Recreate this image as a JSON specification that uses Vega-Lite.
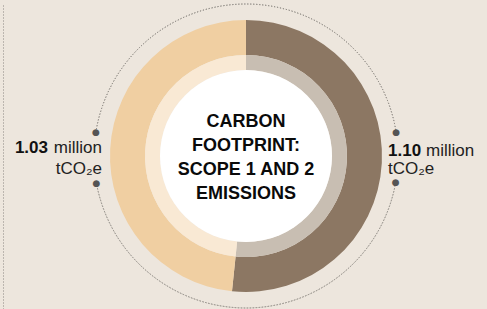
{
  "$schema": "https://vega.github.io/schema/vega-lite/v6.json",
  "autosize": {"type": "none"},
  "width": 482,
  "height": 306,
  "padding": {"left": 5, "top": 3, "right": 0, "bottom": 0},
  "background": "#ede6dd",
  "config": {"view": {"stroke": null}, "text": {"font": "Liberation Sans Narrow, Arial Narrow, Liberation Sans, sans-serif"}},
  "datasets": {
    "footprint": [
      {"side": "right", "value": 1.10, "rank": 1},
      {"side": "left", "value": 1.03, "rank": 2}
    ],
    "labels": [
      {"side": "left", "amount": "1.03", "unit": "million", "unit2": "tCO₂e"},
      {"side": "right", "amount": "1.10", "unit": "million", "unit2": "tCO₂e"}
    ],
    "title": [{"t": "CARBON\nFOOTPRINT:\nSCOPE 1 AND 2\nEMISSIONS"}],
    "one": [{"k": 1}]
  },
  "layer": [
    {
      "data": {"name": "one"},
      "mark": {"type": "arc", "theta": -1.412, "theta2": 1.414, "radius": 152, "radius2": 152, "fill": "transparent", "stroke": "#8a8680", "strokeWidth": 1, "strokeDash": [1, 2]},
      "encoding": {}
    },
    {
      "data": {"name": "one"},
      "mark": {"type": "arc", "theta": 1.744, "theta2": 4.534, "radius": 152, "radius2": 152, "fill": "transparent", "stroke": "#8a8680", "strokeWidth": 1, "strokeDash": [1, 2]},
      "encoding": {}
    },
    {
      "data": {"name": "footprint"},
      "mark": {"type": "arc", "radius": 136, "radius2": 101, "tooltip": null},
      "encoding": {
        "theta": {"field": "value", "type": "quantitative", "stack": true},
        "order": {"field": "rank", "type": "quantitative"},
        "color": {"field": "side", "type": "nominal", "scale": {"domain": ["left", "right"], "range": ["#f0cfa2", "#8c7763"]}, "legend": null}
      }
    },
    {
      "data": {"name": "footprint"},
      "mark": {"type": "arc", "radius": 101, "radius2": 86, "tooltip": null},
      "encoding": {
        "theta": {"field": "value", "type": "quantitative", "stack": true},
        "order": {"field": "rank", "type": "quantitative"},
        "color": {"field": "side", "type": "nominal", "scale": {"domain": ["left", "right"], "range": ["#f9e9d4", "#c8beb2"]}, "legend": null}
      }
    },
    {
      "data": {"name": "one"},
      "mark": {"type": "arc", "theta": 0, "theta2": 6.2832, "radius": 86, "fill": "#ffffff"},
      "encoding": {}
    },
    {
      "data": {"name": "title"},
      "mark": {"type": "text", "lineBreak": "\n", "fontSize": 18, "fontWeight": "bold", "lineHeight": 24, "align": "center", "baseline": "middle", "color": "#0a0a0a", "dy": -34},
      "encoding": {"text": {"field": "t"}}
    },
    {"data": {"name": "one"}, "mark": {"type": "text", "text": "●", "theta": 4.871, "radius": 152, "fontSize": 9, "color": "#555555", "baseline": "middle", "align": "center", "font": "DejaVu Sans"}, "encoding": {}},
    {"data": {"name": "one"}, "mark": {"type": "text", "text": "●", "theta": 4.534, "radius": 152, "fontSize": 9, "color": "#555555", "baseline": "middle", "align": "center", "font": "DejaVu Sans"}, "encoding": {}},
    {"data": {"name": "one"}, "mark": {"type": "text", "text": "●", "theta": 1.414, "radius": 152, "fontSize": 9, "color": "#555555", "baseline": "middle", "align": "center", "font": "DejaVu Sans"}, "encoding": {}},
    {"data": {"name": "one"}, "mark": {"type": "text", "text": "●", "theta": 1.744, "radius": 152, "fontSize": 9, "color": "#555555", "baseline": "middle", "align": "center", "font": "DejaVu Sans"}, "encoding": {}},
    {
      "data": {"name": "labels"},
      "transform": [{"filter": "datum.side === 'left'"}],
      "mark": {"type": "text", "theta": 4.7124, "radius": 198, "align": "right", "baseline": "alphabetic", "dy": -3, "fontSize": 17, "fontWeight": "bold", "color": "#111111"},
      "encoding": {"text": {"field": "amount"}}
    },
    {
      "data": {"name": "labels"},
      "transform": [{"filter": "datum.side === 'left'"}],
      "mark": {"type": "text", "theta": 4.7124, "radius": 144, "align": "right", "baseline": "alphabetic", "dy": -3, "fontSize": 17, "color": "#222222"},
      "encoding": {"text": {"field": "unit"}}
    },
    {
      "data": {"name": "labels"},
      "transform": [{"filter": "datum.side === 'left'"}],
      "mark": {"type": "text", "theta": 4.7124, "radius": 144, "align": "right", "baseline": "alphabetic", "dy": 18, "fontSize": 17, "color": "#222222"},
      "encoding": {"text": {"field": "unit2"}}
    },
    {
      "data": {"name": "labels"},
      "transform": [{"filter": "datum.side === 'right'"}],
      "mark": {"type": "text", "theta": 1.5708, "radius": 142, "align": "left", "baseline": "alphabetic", "dy": 0, "fontSize": 17, "fontWeight": "bold", "color": "#111111"},
      "encoding": {"text": {"field": "amount"}}
    },
    {
      "data": {"name": "labels"},
      "transform": [{"filter": "datum.side === 'right'"}],
      "mark": {"type": "text", "theta": 1.5708, "radius": 180, "align": "left", "baseline": "alphabetic", "dy": 0, "fontSize": 17, "color": "#222222"},
      "encoding": {"text": {"field": "unit"}}
    },
    {
      "data": {"name": "labels"},
      "transform": [{"filter": "datum.side === 'right'"}],
      "mark": {"type": "text", "theta": 1.5708, "radius": 142, "align": "left", "baseline": "alphabetic", "dy": 18, "fontSize": 17, "color": "#222222"},
      "encoding": {"text": {"field": "unit2"}}
    },
    {
      "data": {"name": "one"},
      "mark": {"type": "rule", "opacity": 0},
      "encoding": {
        "y": {"datum": 0, "type": "quantitative", "scale": {"domain": [0, 1]},
              "axis": {"domain": true, "domainDash": [1, 2], "domainColor": "#8a8680", "domainWidth": 1, "ticks": false, "labels": false, "grid": false, "title": null, "offset": 2}}
      }
    }
  ],
  "resolve": {"scale": {"color": "independent"}}
}
